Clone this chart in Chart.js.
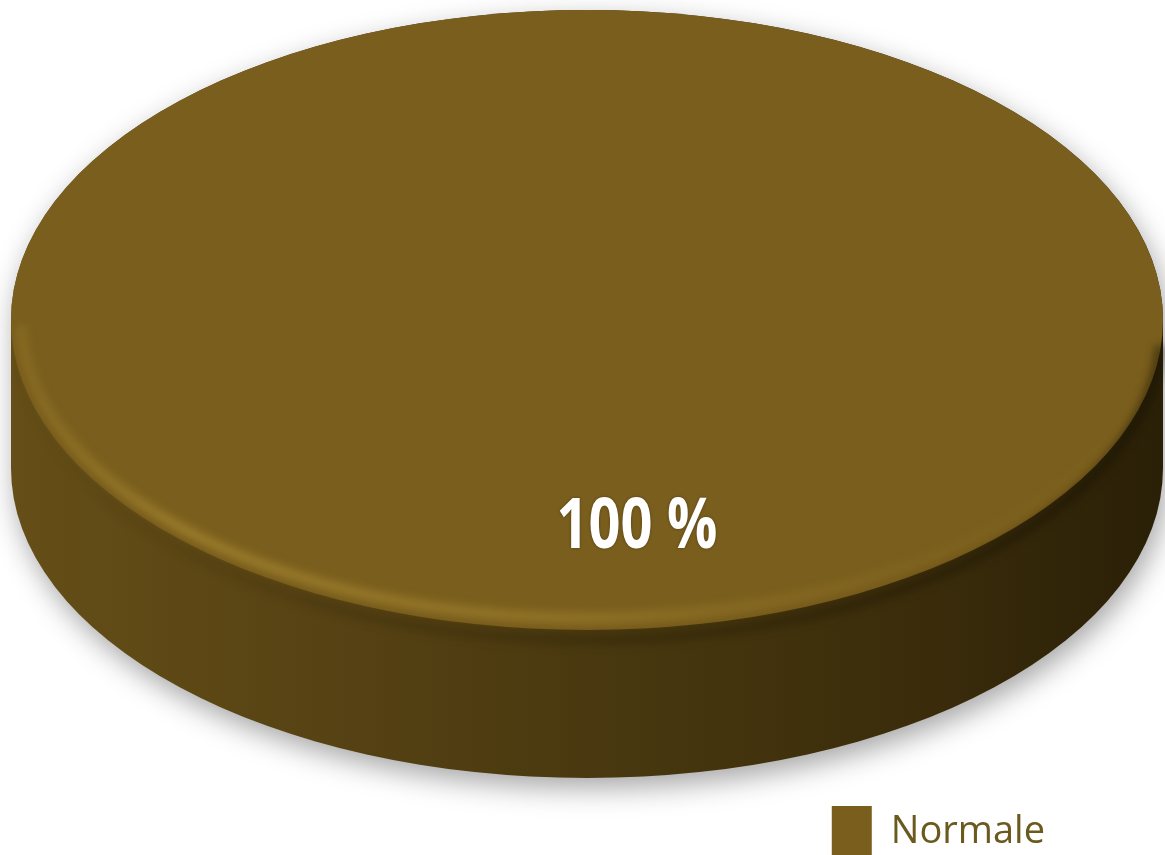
<!DOCTYPE html>
<html>
<head>
<meta charset="utf-8">
<script src="https://cdn.jsdelivr.net/npm/chart.js@4.4.0/dist/chart.umd.min.js"></script>
<style>
  html, body { margin: 0; padding: 0; background: #ffffff; overflow: hidden; }
  #wrap { width: 1165px; height: 855px; overflow: hidden; position: relative; }
  #wrap canvas { position: absolute; left: 0; top: 0; }
</style>
</head>
<body>
<div id="wrap"><canvas id="pieChart" width="1165" height="880"></canvas></div>
<script>
// data
const labels = ['Normale'];
const values = [100];
const colors = ['#7a5e1d'];

// look of the flattened 3D disc (screen pixels)
const DISC = { cx: 587, cy: 320, rx: 576, ry: 310, depth: 148 };

function discTransform(ctx, arc) {
    const sx = DISC.rx / arc.outerRadius;
    const sy = DISC.ry / arc.outerRadius;
    ctx.translate(DISC.cx, DISC.cy);
    ctx.scale(sx, sy);
    ctx.translate(-arc.x, -arc.y);
}

const pie3d = {
    id: 'pie3d',
    beforeDatasetsDraw(chart) {
        const ctx = chart.ctx;
        const arc = chart.getDatasetMeta(0).data[0];
        if (!arc) return;
        const { cx, cy, rx, ry, depth } = DISC;

        // side wall + soft shadow
        ctx.save();
        let g = ctx.createLinearGradient(cx - rx, 0, cx + rx, 0);
        g.addColorStop(0, '#654e17');
        g.addColorStop(0.3, '#554113');
        g.addColorStop(0.55, '#47370f');
        g.addColorStop(0.8, '#3a2c0b');
        g.addColorStop(1, '#2a2007');
        ctx.beginPath();
        ctx.ellipse(cx, cy, rx, ry, 0, Math.PI, 0, false);
        ctx.lineTo(cx + rx, cy + depth);
        ctx.ellipse(cx, cy + depth, rx, ry, 0, 0, Math.PI, false);
        ctx.closePath();
        ctx.shadowColor = 'rgba(0,0,0,0.35)';
        ctx.shadowBlur = 28;
        ctx.shadowOffsetX = 4;
        ctx.shadowOffsetY = 10;
        ctx.fillStyle = g;
        ctx.fill();
        ctx.restore();

        // top face: the slice itself, flattened
        ctx.save();
        discTransform(ctx, arc);
    },
    afterDatasetsDraw(chart) {
        const ctx = chart.ctx;
        const meta = chart.getDatasetMeta(0);
        const arc = meta.data[0];
        if (!arc) return;
        ctx.restore();
        const { cx, cy, rx, ry } = DISC;

        // bevel highlight on the front rim
        ctx.save();
        ctx.filter = 'blur(4px)';
        let hg = ctx.createLinearGradient(cx - rx, 0, cx + rx, 0);
        hg.addColorStop(0, 'rgba(160,130,45,0.3)');
        hg.addColorStop(0.15, 'rgba(165,135,48,0.75)');
        hg.addColorStop(0.5, 'rgba(160,130,45,0.6)');
        hg.addColorStop(0.8, 'rgba(150,120,40,0.15)');
        hg.addColorStop(1, 'rgba(150,120,40,0)');
        ctx.beginPath();
        ctx.ellipse(cx, cy, rx - 10, ry - 12, 0, 0.2, Math.PI - 0.02, false);
        ctx.strokeStyle = hg;
        ctx.lineWidth = 10;
        ctx.stroke();
        // dark shade right under the rim
        let dg = ctx.createLinearGradient(cx - rx, 0, cx + rx, 0);
        dg.addColorStop(0, 'rgba(40,30,5,0.0)');
        dg.addColorStop(0.5, 'rgba(40,30,5,0.35)');
        dg.addColorStop(1, 'rgba(20,15,2,0.5)');
        ctx.beginPath();
        ctx.ellipse(cx, cy + 10, rx - 2, ry, 0, 0.05, Math.PI - 0.05, false);
        ctx.strokeStyle = dg;
        ctx.lineWidth = 10;
        ctx.stroke();
        ctx.restore();

        // percentage label
        const total = values.reduce((a, b) => a + b, 0);
        const txt = Math.round(values[0] / total * 100) + ' %';
        ctx.save();
        ctx.translate(cx + 50, cy + 208);
        ctx.scale(0.8, 1);
        ctx.font = 'bold 70px "Open Sans", sans-serif';
        ctx.shadowColor = 'rgba(0,0,0,0.35)';
        ctx.shadowBlur = 3;
        ctx.fillStyle = '#ffffff';
        ctx.textAlign = 'center';
        ctx.textBaseline = 'middle';
        ctx.fillText(txt, 0, 0);
        ctx.restore();
    }
};

let ctx = document.getElementById('pieChart').getContext('2d');
let pieChart = new Chart(ctx, {
    type: 'pie',
    data: {
        labels: labels,
        datasets: [{
            data: values,
            backgroundColor: colors,
            borderWidth: 0
        }]
    },
    options: {
        responsive: false,
        animation: false,
        layout: { padding: { right: 112, bottom: 12 } },
        plugins: {
            tooltip: { enabled: false },
            legend: {
                position: 'bottom',
                align: 'end',
                labels: {
                    boxWidth: 40,
                    boxHeight: 52,
                    padding: 8,
                    color: '#6b5a1e',
                    font: { family: '"Open Sans", sans-serif', size: 38 }
                }
            }
        }
    },
    plugins: [pie3d]
});
</script>
</body>
</html>
